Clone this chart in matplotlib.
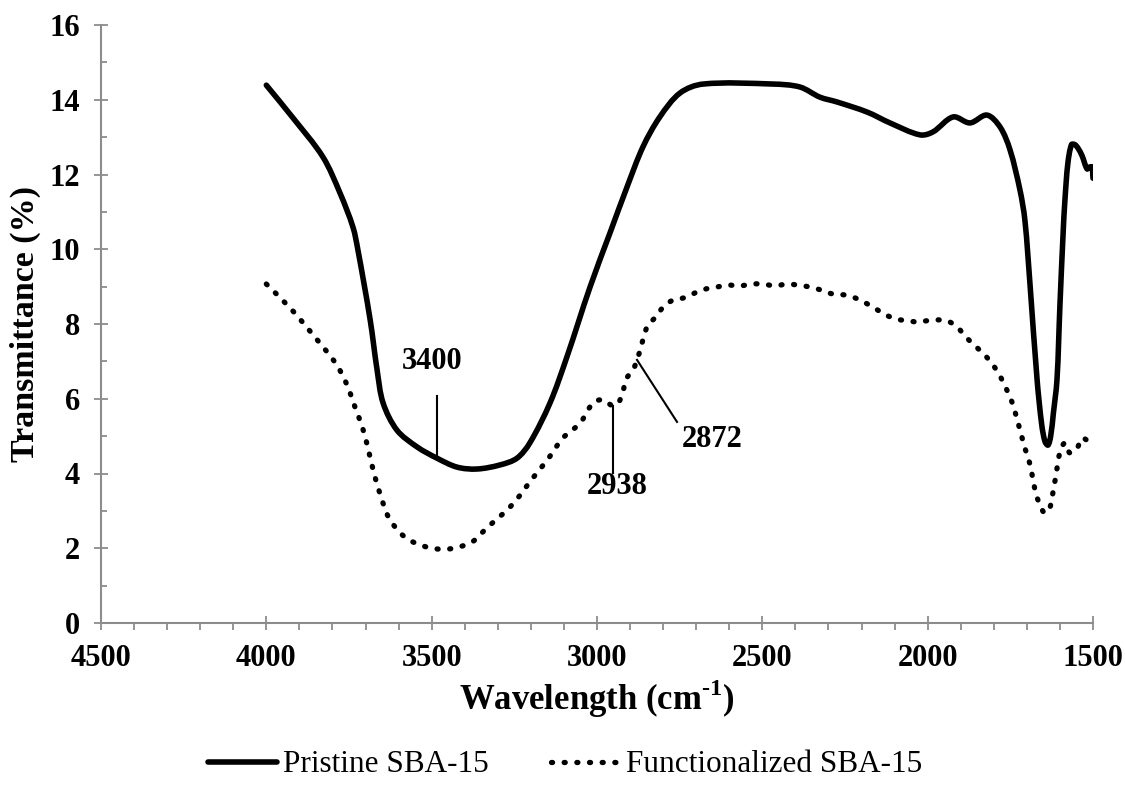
import matplotlib
matplotlib.use("Agg")
import matplotlib.pyplot as plt
import numpy as np
from matplotlib.ticker import MultipleLocator
from matplotlib.path import Path
from matplotlib.patches import PathPatch
from matplotlib.lines import Line2D

plt.rcParams['font.family'] = ['Liberation Serif', 'DejaVu Serif']
plt.rcParams['mathtext.fontset'] = 'custom'
plt.rcParams['mathtext.rm'] = 'Liberation Serif'
plt.rcParams['mathtext.bf'] = 'Liberation Serif:bold'

# Pristine SBA-15 (solid)
pristine_x = [4000, 3919, 3829, 3777, 3738, 3723, 3686, 3665, 3647, 3605, 3544, 3484,
              3423, 3363, 3293, 3242, 3203, 3142, 3091, 3021, 2961, 2909, 2861, 2810,
              2749, 2679, 2468, 2386, 2326, 2274, 2183, 2114, 2023, 1984, 1923, 1872,
              1821, 1781, 1751, 1721, 1706, 1690, 1669, 1655, 1645, 1636, 1628, 1620,
              1609, 1600, 1590, 1585, 1576, 1565, 1555, 1545, 1533, 1518, 1510, 1503, 1500]
pristine_y = [14.39, 13.51, 12.47, 11.50, 10.59, 9.98, 8.11, 6.77, 5.89, 5.16, 4.71, 4.41,
              4.17, 4.12, 4.23, 4.41, 4.82, 5.89, 7.12, 8.99, 10.43, 11.67, 12.74, 13.54,
              14.18, 14.42, 14.42, 14.34, 14.07, 13.94, 13.67, 13.38, 13.06, 13.14, 13.54, 13.38,
              13.59, 13.27, 12.66, 11.59, 10.78, 9.00, 6.50, 5.30, 4.85, 4.76, 5.00, 5.60,
              6.50, 8.50, 10.50, 11.30, 12.30, 12.80, 12.80, 12.70, 12.50, 12.15, 12.20, 12.20, 11.90]

# Functionalized SBA-15 (dotted)
func_x = [4000, 3925, 3856, 3789, 3756, 3732, 3708, 3690, 3674, 3653, 3629, 3581, 3514,
          3448, 3378, 3336, 3257, 3194, 3148, 3103, 3051, 3012, 2982, 2952, 2934, 2921,
          2912, 2891, 2879, 2867, 2858, 2846, 2822, 2800, 2770, 2737, 2704, 2670, 2637,
          2604, 2568, 2531, 2498, 2462, 2425, 2392, 2356, 2323, 2286, 2253, 2220, 2187,
          2156, 2126, 2093, 2056, 2023, 2008, 1972, 1939, 1908, 1884, 1860, 1833, 1809,
          1790, 1772, 1745, 1724, 1706, 1691, 1672, 1648, 1633, 1624, 1612, 1600, 1585,
          1570, 1548, 1533, 1509, 1500]
func_y = [9.07, 8.40, 7.68, 6.93, 6.37, 5.78, 5.19, 4.58, 3.99, 3.37, 2.81, 2.30, 2.03,
          1.98, 2.17, 2.52, 3.16, 3.88, 4.39, 4.95, 5.35, 5.89, 5.97, 5.81, 5.91, 6.21,
          6.53, 6.77, 7.04, 7.38, 7.68, 7.97, 8.19, 8.45, 8.64, 8.70, 8.83, 8.94, 8.99,
          9.04, 9.02, 9.07, 9.07, 9.02, 9.07, 9.04, 8.99, 8.91, 8.80, 8.78, 8.70, 8.56,
          8.40, 8.24, 8.13, 8.08, 8.05, 8.08, 8.11, 8.08, 7.89, 7.65, 7.44, 7.22, 6.98,
          6.74, 6.45, 5.91, 5.27, 4.68, 4.26, 3.45, 2.95, 3.03, 3.35, 3.96, 4.57, 4.82,
          4.55, 4.68, 4.95, 4.84, 4.87]

# annotations: label, text position, line start, line end
ann_labels = ['3400', '2938', '2872']
ann_text_xy = [(3500, 7.0), (2940, 3.64), (2652, 4.90)]
ann_line_from = [(3484, 6.07), (2952, 4.01), (2758, 5.38)]
ann_line_to = [(3484, 4.44), (2952, 5.81), (2879, 7.04)]

X_RANGE = (4500, 1500)
Y_RANGE = (0, 16)


def smooth_path(xs, ys, sx, sy):
    """Smoothed-line rendering: non-uniform Catmull-Rom drawn as cubic Beziers
    through the data points (sx, sy = data units to screen-length scale)."""
    p = np.column_stack([xs, ys]).astype(float)
    q = p * np.array([sx, sy])
    n = len(p)
    d = np.hypot(*(np.diff(q, axis=0).T))
    d[d == 0] = 1e-9
    tang = np.zeros_like(p)
    for i in range(n):
        if i == 0:
            tang[i] = (p[1] - p[0]) / d[0]
        elif i == n - 1:
            tang[i] = (p[-1] - p[-2]) / d[-1]
        else:
            tang[i] = (p[i + 1] - p[i - 1]) / (d[i - 1] + d[i])
    verts = [p[0]]
    codes = [Path.MOVETO]
    for i in range(n - 1):
        c1 = p[i] + tang[i] * d[i] / 3.0
        c2 = p[i + 1] - tang[i + 1] * d[i] / 3.0
        verts += [c1, c2, p[i + 1]]
        codes += [Path.CURVE4] * 3
    return Path(verts, codes)


DOT = (0, (0.2, 2.2))

fig = plt.figure(figsize=(11.25, 7.87), dpi=100)
ax = fig.add_axes([101/1125, 1-623/787, (1093-101)/1125, (623-25)/787])

sx = 992.0 / abs(X_RANGE[0] - X_RANGE[1])
sy = 598.0 / abs(Y_RANGE[1] - Y_RANGE[0])

solid = PathPatch(smooth_path(pristine_x, pristine_y, sx, sy), fill=False, edgecolor='black',
                  lw=4.0, joinstyle='round', capstyle='round')
ax.add_patch(solid)
dotted = PathPatch(smooth_path(func_x, func_y, sx, sy), fill=False, edgecolor='black',
                   lw=3.8, linestyle=DOT, capstyle='round')
ax.add_patch(dotted)

for lab, txy, p0, p1 in zip(ann_labels, ann_text_xy, ann_line_from, ann_line_to):
    ax.plot([p0[0], p1[0]], [p0[1], p1[1]], color='black', lw=1.5)
    ax.text(txy[0], txy[1], lab, ha='center', va='center', fontsize=22, fontweight='bold')

ax.set_xlim(*X_RANGE)
ax.set_ylim(*Y_RANGE)
ax.xaxis.set_major_locator(MultipleLocator(500))
ax.xaxis.set_minor_locator(MultipleLocator(100))
ax.yaxis.set_major_locator(MultipleLocator(2))
ax.yaxis.set_minor_locator(MultipleLocator(1))

gray = '#8c8c8c'
for s in ['top', 'right']:
    ax.spines[s].set_visible(False)
for s in ['left', 'bottom']:
    ax.spines[s].set_color(gray)
    ax.spines[s].set_linewidth(1.5)

ax.tick_params(axis='both', which='major', direction='inout', length=10.5, width=1.3,
               color=gray, labelsize=22)
ax.tick_params(axis='y', which='minor', direction='in', length=4.5, width=1.3, color=gray)
ax.tick_params(axis='x', which='minor', direction='out', length=5, width=1.3, color=gray)
ax.tick_params(axis='y', which='major', pad=10)
ax.tick_params(axis='x', which='major', pad=10)
for t in ax.get_xticklabels() + ax.get_yticklabels():
    t.set_fontweight('bold')

ax.set_xlabel('Wavelength (cm$^{\\mathbf{\u2010}\\mathbf{1}}$)', fontsize=25,
              fontweight='bold', labelpad=3)
ax.set_ylabel('Transmittance (%)', fontsize=24.5, fontweight='bold', labelpad=6)

handles = [Line2D([], [], color='black', lw=4.0, solid_capstyle='round'),
           Line2D([], [], color='black', lw=3.8, linestyle=DOT, dash_capstyle='round')]
fig.legend(handles, ['Pristine SBA-15', 'Functionalized SBA-15'], loc='center',
           bbox_to_anchor=(565/1125, 1-765/787), ncol=2, frameon=False,
           fontsize=22.5, handlelength=2.2, handletextpad=0.2, columnspacing=2.0)

fig.savefig('out.png', dpi=100)
